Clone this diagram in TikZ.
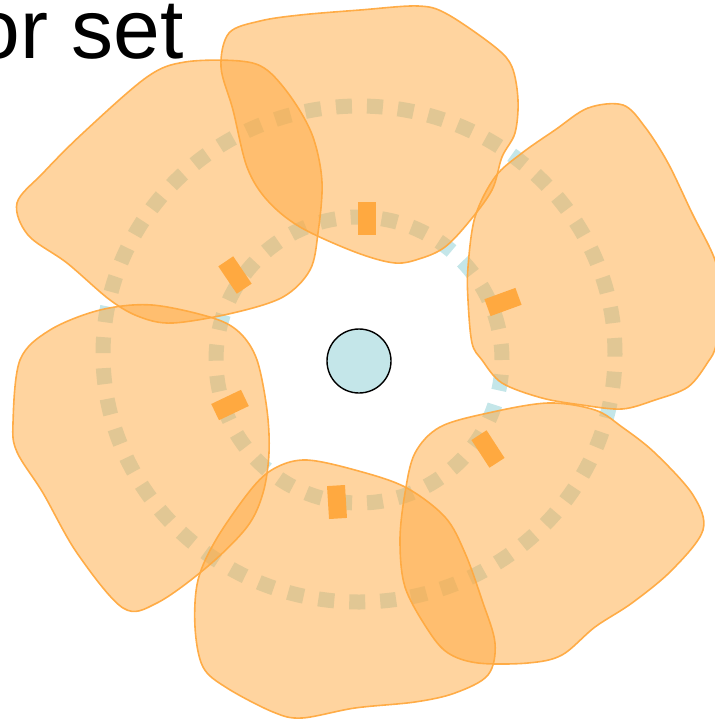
\documentclass[tikz,border=0pt]{standalone}
\usepackage{fontspec}
\setmainfont{Liberation Sans}
\usepackage{xcolor}
\usepackage{tikz}
\usetikzlibrary{positioning}
\definecolor{blorange}{HTML}{FFA940}
\definecolor{ringblue}{HTML}{C4E6E9}
\tikzset{
  blobshape/.style={draw=blorange,line width=1.6pt,fill=blorange,fill opacity=0.5,draw opacity=0.95,line join=round},
  ringdash/.style={draw=ringblue,line width=15pt,dash pattern=on 16pt off 15pt},
  ticknode/.style={rectangle,fill=blorange,inner sep=0pt,minimum width=18pt,minimum height=33pt},
  hubnode/.style={circle,draw=black,line width=1.4pt,fill=ringblue,minimum size=64pt,inner sep=0pt},
}

\begin{document}
\begin{tikzpicture}[x=1pt,y=-1pt]
  \useasboundingbox (0,0) rectangle (715,721);
  \clip (0,0) rectangle (715,721);
  \draw[ringdash] (359,360) circle[radius=143pt];
  \draw[ringdash] (359,354) ellipse[x radius=256pt,y radius=248pt];
  % blobs
  \draw[blobshape] plot[smooth cycle,tension=0.55] coordinates {(229,33) (260,21) (300,15) (360,10) (418,6) (447,14) (495,47) (512,67) (518,100) (515,133) (502,157) (492,190) (468,223) (445,247) (422,258) (395,263) (355,252) (300,227) (267,200) (247,167) (233,110) (221,67)};
  \draw[blobshape] plot[smooth cycle,tension=0.55] coordinates {(17,203) (43,173) (83,133) (147,77) (185,62) (240,61) (267,70) (293,100) (313,137) (322,182) (318,233) (310,270) (283,297) (233,313) (173,323) (140,317) (110,300) (67,263) (28,235)};
  \draw[blobshape] plot[smooth cycle,tension=0.55] coordinates {(588,108) (623,105) (645,127) (668,163) (692,213) (715,260) (722,300) (716,345) (708,362) (688,387) (655,400) (622,409) (582,405) (542,398) (502,383) (482,360) (472,343) (468,300) (468,267) (475,217) (495,177) (522,153) (555,130)};
  \draw[blobshape] plot[smooth cycle,tension=0.55] coordinates {(20,360) (50,330) (100,310) (152,305) (213,318) (240,333) (257,360) (267,410) (269,453) (263,493) (247,527) (207,567) (157,603) (123,608) (77,553) (43,493) (17,452) (13,423)};
  \draw[blobshape] plot[smooth cycle,tension=0.55] coordinates {(217,538) (253,487) (277,467) (307,460) (355,470) (405,487) (445,517) (465,553) (482,600) (495,643) (488,675) (455,693) (415,702) (355,708) (302,718) (273,712) (227,688) (203,667) (195,627) (198,580)};
  \draw[blobshape] plot[smooth cycle,tension=0.55] coordinates {(440,427) (488,413) (548,403) (595,410) (622,427) (655,453) (693,495) (703,530) (672,570) (632,603) (595,627) (562,655) (528,663) (478,663) (448,653) (428,630) (405,587) (400,540) (405,493) (415,453)};
  \node[ticknode] (nT1) at (367,218) {};
  \node[ticknode,rotate=34] (nT2) at (235,275) {};
  \node[ticknode,rotate=-64.5] (nT3) at (230,405) {};
  \node[ticknode,rotate=3.5] (nT4) at (337,502) {};
  \node[ticknode,rotate=33] (nT5) at (488,449) {};
  \node[ticknode,rotate=-70] (nT6) at (503,302) {};
  \node[hubnode] (nHub) at (359,361) {};
  \node[anchor=base east,inner sep=0pt,font=\fontsize{84}{96}\selectfont] (nTitle) at (183.7,58) {or set};
\end{tikzpicture}
\end{document}
